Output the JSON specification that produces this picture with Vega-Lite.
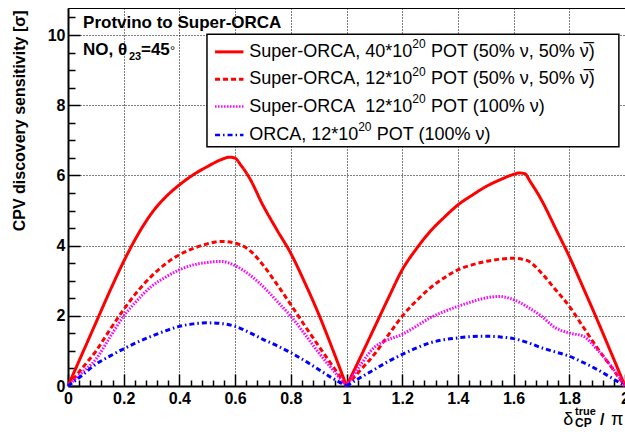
{
  "$schema": "https://vega.github.io/schema/vega-lite/v6.json",
  "width": 557,
  "height": 378,
  "autosize": {"type": "none"},
  "padding": {"left": 68, "top": 8, "right": 0, "bottom": 48},
  "background": "white",
  "config": {"view": {"stroke": "#000", "strokeWidth": 1}, "font": "Liberation Sans"},
  "data": {"values": [{}]},
  "resolve": {"axis": {"x": "independent", "y": "independent"}},
  "datasets": {
    "curves": [
      {"s":"a","h":1,"x":0,"y":0},{"s":"a","h":1,"x":0.05,"y":0.9},{"s":"a","h":1,"x":0.1,"y":1.8},{"s":"a","h":1,"x":0.15,"y":2.7},{"s":"a","h":1,"x":0.2,"y":3.55},{"s":"a","h":1,"x":0.25,"y":4.3},{"s":"a","h":1,"x":0.3,"y":4.92},{"s":"a","h":1,"x":0.35,"y":5.38},{"s":"a","h":1,"x":0.4,"y":5.73},{"s":"a","h":1,"x":0.45,"y":6.02},{"s":"a","h":1,"x":0.5,"y":6.25},{"s":"a","h":1,"x":0.55,"y":6.45},{"s":"a","h":1,"x":0.58,"y":6.52},{"s":"a","h":1,"x":0.6,"y":6.49},{"s":"a","h":1,"x":0.62,"y":6.3},{"s":"a","h":1,"x":0.65,"y":5.95},{"s":"a","h":1,"x":0.7,"y":5.15},{"s":"a","h":1,"x":0.75,"y":4.45},{"s":"a","h":1,"x":0.8,"y":3.78},{"s":"a","h":1,"x":0.85,"y":2.95},{"s":"a","h":1,"x":0.9,"y":2.05},{"s":"a","h":1,"x":0.95,"y":1.05},{"s":"a","h":1,"x":1.0,"y":0},
      {"s":"a","h":2,"x":1.0,"y":0},{"s":"a","h":2,"x":1.05,"y":0.82},{"s":"a","h":2,"x":1.1,"y":1.66},{"s":"a","h":2,"x":1.15,"y":2.5},{"s":"a","h":2,"x":1.2,"y":3.31},{"s":"a","h":2,"x":1.25,"y":3.9},{"s":"a","h":2,"x":1.3,"y":4.4},{"s":"a","h":2,"x":1.35,"y":4.8},{"s":"a","h":2,"x":1.4,"y":5.16},{"s":"a","h":2,"x":1.45,"y":5.43},{"s":"a","h":2,"x":1.5,"y":5.68},{"s":"a","h":2,"x":1.55,"y":5.87},{"s":"a","h":2,"x":1.6,"y":6.03},{"s":"a","h":2,"x":1.62,"y":6.07},{"s":"a","h":2,"x":1.64,"y":6.05},{"s":"a","h":2,"x":1.66,"y":5.82},{"s":"a","h":2,"x":1.7,"y":5.3},{"s":"a","h":2,"x":1.75,"y":4.5},{"s":"a","h":2,"x":1.8,"y":3.69},{"s":"a","h":2,"x":1.85,"y":2.8},{"s":"a","h":2,"x":1.9,"y":1.89},{"s":"a","h":2,"x":1.95,"y":0.95},{"s":"a","h":2,"x":2.0,"y":0},
      {"s":"b","h":1,"x":0,"y":0},{"s":"b","h":1,"x":0.05,"y":0.5},{"s":"b","h":1,"x":0.1,"y":0.99},{"s":"b","h":1,"x":0.15,"y":1.6},{"s":"b","h":1,"x":0.2,"y":2.18},{"s":"b","h":1,"x":0.25,"y":2.7},{"s":"b","h":1,"x":0.3,"y":3.13},{"s":"b","h":1,"x":0.35,"y":3.48},{"s":"b","h":1,"x":0.4,"y":3.74},{"s":"b","h":1,"x":0.45,"y":3.92},{"s":"b","h":1,"x":0.5,"y":4.05},{"s":"b","h":1,"x":0.55,"y":4.12},{"s":"b","h":1,"x":0.6,"y":4.07},{"s":"b","h":1,"x":0.65,"y":3.88},{"s":"b","h":1,"x":0.7,"y":3.45},{"s":"b","h":1,"x":0.75,"y":2.9},{"s":"b","h":1,"x":0.8,"y":2.32},{"s":"b","h":1,"x":0.85,"y":1.72},{"s":"b","h":1,"x":0.9,"y":1.14},{"s":"b","h":1,"x":0.95,"y":0.57},{"s":"b","h":1,"x":1.0,"y":0},
      {"s":"b","h":2,"x":1.0,"y":0},{"s":"b","h":2,"x":1.05,"y":0.45},{"s":"b","h":2,"x":1.1,"y":0.9},{"s":"b","h":2,"x":1.15,"y":1.45},{"s":"b","h":2,"x":1.2,"y":1.99},{"s":"b","h":2,"x":1.25,"y":2.42},{"s":"b","h":2,"x":1.3,"y":2.79},{"s":"b","h":2,"x":1.35,"y":3.08},{"s":"b","h":2,"x":1.4,"y":3.31},{"s":"b","h":2,"x":1.45,"y":3.45},{"s":"b","h":2,"x":1.5,"y":3.55},{"s":"b","h":2,"x":1.55,"y":3.61},{"s":"b","h":2,"x":1.6,"y":3.64},{"s":"b","h":2,"x":1.65,"y":3.57},{"s":"b","h":2,"x":1.7,"y":3.22},{"s":"b","h":2,"x":1.75,"y":2.75},{"s":"b","h":2,"x":1.8,"y":2.27},{"s":"b","h":2,"x":1.85,"y":1.68},{"s":"b","h":2,"x":1.9,"y":1.09},{"s":"b","h":2,"x":1.95,"y":0.55},{"s":"b","h":2,"x":2.0,"y":0},
      {"s":"c","h":1,"x":0,"y":0},{"s":"c","h":1,"x":0.05,"y":0.38},{"s":"c","h":1,"x":0.1,"y":0.76},{"s":"c","h":1,"x":0.15,"y":1.38},{"s":"c","h":1,"x":0.2,"y":1.99},{"s":"c","h":1,"x":0.25,"y":2.45},{"s":"c","h":1,"x":0.3,"y":2.84},{"s":"c","h":1,"x":0.35,"y":3.1},{"s":"c","h":1,"x":0.4,"y":3.31},{"s":"c","h":1,"x":0.45,"y":3.45},{"s":"c","h":1,"x":0.5,"y":3.52},{"s":"c","h":1,"x":0.55,"y":3.55},{"s":"c","h":1,"x":0.6,"y":3.43},{"s":"c","h":1,"x":0.65,"y":3.18},{"s":"c","h":1,"x":0.7,"y":2.84},{"s":"c","h":1,"x":0.75,"y":2.42},{"s":"c","h":1,"x":0.8,"y":1.99},{"s":"c","h":1,"x":0.85,"y":1.48},{"s":"c","h":1,"x":0.9,"y":0.95},{"s":"c","h":1,"x":0.95,"y":0.47},{"s":"c","h":1,"x":1.0,"y":0},
      {"s":"c","h":2,"x":1.0,"y":0},{"s":"c","h":2,"x":1.05,"y":0.6},{"s":"c","h":2,"x":1.1,"y":1.1},{"s":"c","h":2,"x":1.15,"y":1.32},{"s":"c","h":2,"x":1.2,"y":1.47},{"s":"c","h":2,"x":1.25,"y":1.7},{"s":"c","h":2,"x":1.3,"y":1.94},{"s":"c","h":2,"x":1.35,"y":2.12},{"s":"c","h":2,"x":1.4,"y":2.27},{"s":"c","h":2,"x":1.45,"y":2.4},{"s":"c","h":2,"x":1.5,"y":2.51},{"s":"c","h":2,"x":1.55,"y":2.55},{"s":"c","h":2,"x":1.6,"y":2.46},{"s":"c","h":2,"x":1.65,"y":2.25},{"s":"c","h":2,"x":1.7,"y":1.99},{"s":"c","h":2,"x":1.75,"y":1.66},{"s":"c","h":2,"x":1.8,"y":1.51},{"s":"c","h":2,"x":1.85,"y":1.42},{"s":"c","h":2,"x":1.9,"y":1.04},{"s":"c","h":2,"x":1.95,"y":0.57},{"s":"c","h":2,"x":2.0,"y":0},
      {"s":"d","h":1,"x":0,"y":0},{"s":"d","h":1,"x":0.05,"y":0.3},{"s":"d","h":1,"x":0.1,"y":0.62},{"s":"d","h":1,"x":0.15,"y":0.85},{"s":"d","h":1,"x":0.2,"y":1.06},{"s":"d","h":1,"x":0.25,"y":1.25},{"s":"d","h":1,"x":0.3,"y":1.42},{"s":"d","h":1,"x":0.35,"y":1.57},{"s":"d","h":1,"x":0.4,"y":1.7},{"s":"d","h":1,"x":0.45,"y":1.77},{"s":"d","h":1,"x":0.5,"y":1.8},{"s":"d","h":1,"x":0.55,"y":1.78},{"s":"d","h":1,"x":0.6,"y":1.7},{"s":"d","h":1,"x":0.65,"y":1.53},{"s":"d","h":1,"x":0.7,"y":1.33},{"s":"d","h":1,"x":0.75,"y":1.15},{"s":"d","h":1,"x":0.8,"y":0.95},{"s":"d","h":1,"x":0.85,"y":0.72},{"s":"d","h":1,"x":0.9,"y":0.47},{"s":"d","h":1,"x":0.95,"y":0.22},{"s":"d","h":1,"x":1.0,"y":0},
      {"s":"d","h":2,"x":1.0,"y":0},{"s":"d","h":2,"x":1.05,"y":0.24},{"s":"d","h":2,"x":1.1,"y":0.47},{"s":"d","h":2,"x":1.15,"y":0.7},{"s":"d","h":2,"x":1.2,"y":0.9},{"s":"d","h":2,"x":1.25,"y":1.08},{"s":"d","h":2,"x":1.3,"y":1.23},{"s":"d","h":2,"x":1.35,"y":1.32},{"s":"d","h":2,"x":1.4,"y":1.37},{"s":"d","h":2,"x":1.45,"y":1.41},{"s":"d","h":2,"x":1.5,"y":1.42},{"s":"d","h":2,"x":1.55,"y":1.4},{"s":"d","h":2,"x":1.6,"y":1.35},{"s":"d","h":2,"x":1.65,"y":1.24},{"s":"d","h":2,"x":1.7,"y":1.09},{"s":"d","h":2,"x":1.75,"y":0.97},{"s":"d","h":2,"x":1.8,"y":0.85},{"s":"d","h":2,"x":1.85,"y":0.67},{"s":"d","h":2,"x":1.9,"y":0.47},{"s":"d","h":2,"x":1.95,"y":0.24},{"s":"d","h":2,"x":2.0,"y":0}
    ]
  },
  "layer": [
    {
      "data": {"name": "curves"},
      "mark": {"type": "line", "strokeCap": "butt", "interpolate": "monotone"},
      "encoding": {
        "x": {
          "field": "x", "type": "quantitative",
          "scale": {"domain": [0, 2], "nice": false, "zero": false},
          "axis": {
            "title": null,
            "values": [0,0.04,0.08,0.12,0.16,0.2,0.24,0.28,0.32,0.36,0.4,0.44,0.48,0.52,0.56,0.6,0.64,0.68,0.72,0.76,0.8,0.84,0.88,0.92,0.96,1,1.04,1.08,1.12,1.16,1.2,1.24,1.28,1.32,1.36,1.4,1.44,1.48,1.52,1.56,1.6,1.64,1.68,1.72,1.76,1.8,1.84,1.88,1.92,1.96,2],
            "labelExpr": "abs(datum.value*5 - round(datum.value*5)) < 0.001 ? format(datum.value, '.1~f') : ''",
            "tickSize": {"condition": {"test": "abs(datum.value*5 - round(datum.value*5)) < 0.001", "value": -12}, "value": -6},
            "gridOpacity": {"condition": {"test": "abs(datum.value*5 - round(datum.value*5)) < 0.001", "value": 1}, "value": 0},
            "grid": true, "gridColor": "#000", "gridDash": [1, 2], "gridWidth": 1,
            "domainColor": "#000", "domainWidth": 2, "tickColor": "#000", "tickWidth": 1.5,
            "labelFont": "Liberation Sans", "labelFontWeight": "bold", "labelFontSize": 16, "labelColor": "#000",
            "labelPadding": 16, "labelOverlap": false, "labelFlush": false, "labelBound": false
          }
        },
        "y": {
          "field": "y", "type": "quantitative",
          "scale": {"domain": [0, 10.77], "nice": false, "zero": false},
          "axis": {
            "title": "CPV discovery sensitivity [σ]",
            "values": [0,0.5,1,1.5,2,2.5,3,3.5,4,4.5,5,5.5,6,6.5,7,7.5,8,8.5,9,9.5,10,10.5],
            "labelExpr": "datum.value % 2 == 0 ? format(datum.value, 'd') : ''",
            "tickSize": {"condition": {"test": "datum.value % 2 == 0", "value": -12}, "value": -7},
            "gridOpacity": {"condition": {"test": "datum.value % 2 == 0", "value": 1}, "value": 0},
            "grid": true, "gridColor": "#000", "gridDash": [1, 2], "gridWidth": 1,
            "domainColor": "#000", "domainWidth": 2, "tickColor": "#000", "tickWidth": 1.5,
            "labelFont": "Liberation Sans", "labelFontWeight": "bold", "labelFontSize": 16, "labelColor": "#000",
            "labelPadding": 15, "labelOverlap": false, "labelFlush": false, "labelBound": false,
            "titleFont": "Liberation Sans", "titleFontWeight": "bold", "titleFontSize": 16, "titleColor": "#000",
            "titleAngle": -90, "titleAlign": "right", "titleBaseline": "middle", "titleX": -49, "titleY": 2
          }
        },
        "detail": [{"field": "s"}, {"field": "h"}],
        "color": {"field": "s", "type": "nominal", "legend": null,
          "scale": {"domain": ["a","b","c","d"], "range": ["#ff0000","#ff0000","#ff00ff","#0000ff"]}},
        "strokeDash": {"field": "s", "type": "nominal", "legend": null,
          "scale": {"domain": ["a","b","c","d"], "range": [[1,0],[5,3],[1.5,1.5],[5,3,1.5,3]]}},
        "strokeWidth": {"field": "s", "type": "nominal", "legend": null,
          "scale": {"domain": ["a","b","c","d"], "range": [3,3,2.5,2.5]}}
      }
    },
    {
      "mark": {"type": "rect", "fill": "white", "stroke": "#000", "strokeWidth": 1.5},
      "encoding": {"x": {"datum": 0.499, "axis": null}, "x2": {"datum": 1.978}, "y": {"datum": 6.82, "axis": null}, "y2": {"datum": 10.02}}
    },
    {"mark": {"type": "rule", "color": "#ff0000", "strokeWidth": 3}, "encoding": {"x": {"datum": 0.528, "axis": null}, "x2": {"datum": 0.63}, "y": {"datum": 9.52, "axis": null}}},
    {"mark": {"type": "rule", "color": "#ff0000", "strokeWidth": 3, "strokeDash": [5, 3]}, "encoding": {"x": {"datum": 0.528, "axis": null}, "x2": {"datum": 0.63}, "y": {"datum": 8.74, "axis": null}}},
    {"mark": {"type": "rule", "color": "#ff00ff", "strokeWidth": 2.5, "strokeDash": [1.5, 1.5]}, "encoding": {"x": {"datum": 0.528, "axis": null}, "x2": {"datum": 0.63}, "y": {"datum": 7.96, "axis": null}}},
    {"mark": {"type": "rule", "color": "#0000ff", "strokeWidth": 2.5, "strokeDash": [5, 3, 1.5, 3]}, "encoding": {"x": {"datum": 0.528, "axis": null}, "x2": {"datum": 0.63}, "y": {"datum": 7.15, "axis": null}}},
    {"mark": {"type": "text", "text": "Super-ORCA, 40*10", "align": "left", "baseline": "middle", "fontSize": 18, "font": "Liberation Sans", "color": "#000"}, "encoding": {"x": {"datum": 0.651, "axis": null}, "y": {"datum": 9.52, "axis": null}}},
    {"mark": {"type": "text", "text": "20", "align": "left", "baseline": "middle", "fontSize": 12, "font": "Liberation Sans", "color": "#000"}, "encoding": {"x": {"datum": 1.236, "axis": null}, "y": {"datum": 9.74, "axis": null}}},
    {"mark": {"type": "text", "text": "POT (50% ν, 50% ν̅)", "align": "left", "baseline": "middle", "fontSize": 18, "font": "Liberation Sans", "color": "#000"}, "encoding": {"x": {"datum": 1.3035, "axis": null}, "y": {"datum": 9.52, "axis": null}}},
    {"mark": {"type": "text", "text": "Super-ORCA, 12*10", "align": "left", "baseline": "middle", "fontSize": 18, "font": "Liberation Sans", "color": "#000"}, "encoding": {"x": {"datum": 0.651, "axis": null}, "y": {"datum": 8.74, "axis": null}}},
    {"mark": {"type": "text", "text": "20", "align": "left", "baseline": "middle", "fontSize": 12, "font": "Liberation Sans", "color": "#000"}, "encoding": {"x": {"datum": 1.236, "axis": null}, "y": {"datum": 8.96, "axis": null}}},
    {"mark": {"type": "text", "text": "POT (50% ν, 50% ν̅)", "align": "left", "baseline": "middle", "fontSize": 18, "font": "Liberation Sans", "color": "#000"}, "encoding": {"x": {"datum": 1.3035, "axis": null}, "y": {"datum": 8.74, "axis": null}}},
    {"mark": {"type": "text", "text": "Super-ORCA\u00a0 12*10", "align": "left", "baseline": "middle", "fontSize": 18, "font": "Liberation Sans", "color": "#000"}, "encoding": {"x": {"datum": 0.651, "axis": null}, "y": {"datum": 7.96, "axis": null}}},
    {"mark": {"type": "text", "text": "20", "align": "left", "baseline": "middle", "fontSize": 12, "font": "Liberation Sans", "color": "#000"}, "encoding": {"x": {"datum": 1.236, "axis": null}, "y": {"datum": 8.18, "axis": null}}},
    {"mark": {"type": "text", "text": "POT (100% ν)", "align": "left", "baseline": "middle", "fontSize": 18, "font": "Liberation Sans", "color": "#000"}, "encoding": {"x": {"datum": 1.3035, "axis": null}, "y": {"datum": 7.96, "axis": null}}},
    {"mark": {"type": "text", "text": "ORCA, 12*10", "align": "left", "baseline": "middle", "fontSize": 18, "font": "Liberation Sans", "color": "#000"}, "encoding": {"x": {"datum": 0.651, "axis": null}, "y": {"datum": 7.15, "axis": null}}},
    {"mark": {"type": "text", "text": "20", "align": "left", "baseline": "middle", "fontSize": 12, "font": "Liberation Sans", "color": "#000"}, "encoding": {"x": {"datum": 1.042, "axis": null}, "y": {"datum": 7.37, "axis": null}}},
    {"mark": {"type": "text", "text": "POT (100% ν)", "align": "left", "baseline": "middle", "fontSize": 18, "font": "Liberation Sans", "color": "#000"}, "encoding": {"x": {"datum": 1.109, "axis": null}, "y": {"datum": 7.15, "axis": null}}},
    {"mark": {"type": "text", "text": "Protvino to Super-ORCA", "align": "left", "baseline": "alphabetic", "fontSize": 17, "fontWeight": "bold", "font": "Liberation Sans", "color": "#000"}, "encoding": {"x": {"datum": 0.054, "axis": null}, "y": {"datum": 10.2, "axis": null}}},
    {"mark": {"type": "text", "text": "NO, θ", "align": "left", "baseline": "alphabetic", "fontSize": 17, "fontWeight": "bold", "font": "Liberation Sans", "color": "#000"}, "encoding": {"x": {"datum": 0.054, "axis": null}, "y": {"datum": 9.43, "axis": null}}},
    {"mark": {"type": "text", "text": "23", "align": "left", "baseline": "alphabetic", "fontSize": 11, "fontWeight": "bold", "font": "Liberation Sans", "color": "#000"}, "encoding": {"x": {"datum": 0.219, "axis": null}, "y": {"datum": 9.29, "axis": null}}},
    {"mark": {"type": "text", "text": "=45", "align": "left", "baseline": "alphabetic", "fontSize": 17, "fontWeight": "bold", "font": "Liberation Sans", "color": "#000"}, "encoding": {"x": {"datum": 0.262, "axis": null}, "y": {"datum": 9.43, "axis": null}}},
    {"mark": {"type": "text", "text": "°", "align": "left", "baseline": "alphabetic", "fontSize": 13, "font": "Liberation Sans", "color": "#000"}, "encoding": {"x": {"datum": 0.366, "axis": null}, "y": {"datum": 9.43, "axis": null}}},
    {"mark": {"type": "text", "text": "δ", "align": "left", "baseline": "alphabetic", "fontSize": 18, "font": "Liberation Sans", "color": "#000"}, "encoding": {"x": {"datum": 1.778, "axis": null}, "y": {"datum": -1.11, "axis": null}}},
    {"mark": {"type": "text", "text": "true", "align": "left", "baseline": "alphabetic", "fontSize": 11, "fontWeight": "bold", "font": "Liberation Sans", "color": "#000"}, "encoding": {"x": {"datum": 1.8205, "axis": null}, "y": {"datum": -0.826, "axis": null}}},
    {"mark": {"type": "text", "text": "CP", "align": "left", "baseline": "alphabetic", "fontSize": 12, "fontWeight": "bold", "font": "Liberation Sans", "color": "#000"}, "encoding": {"x": {"datum": 1.8205, "axis": null}, "y": {"datum": -1.168, "axis": null}}},
    {"mark": {"type": "text", "text": "/", "align": "left", "baseline": "alphabetic", "fontSize": 16, "fontWeight": "bold", "font": "Liberation Sans", "color": "#000"}, "encoding": {"x": {"datum": 1.91, "axis": null}, "y": {"datum": -1.11, "axis": null}}},
    {"mark": {"type": "text", "text": "π", "align": "left", "baseline": "alphabetic", "fontSize": 18, "font": "Liberation Sans", "color": "#000"}, "encoding": {"x": {"datum": 1.95, "axis": null}, "y": {"datum": -1.11, "axis": null}}}
  ]
}
